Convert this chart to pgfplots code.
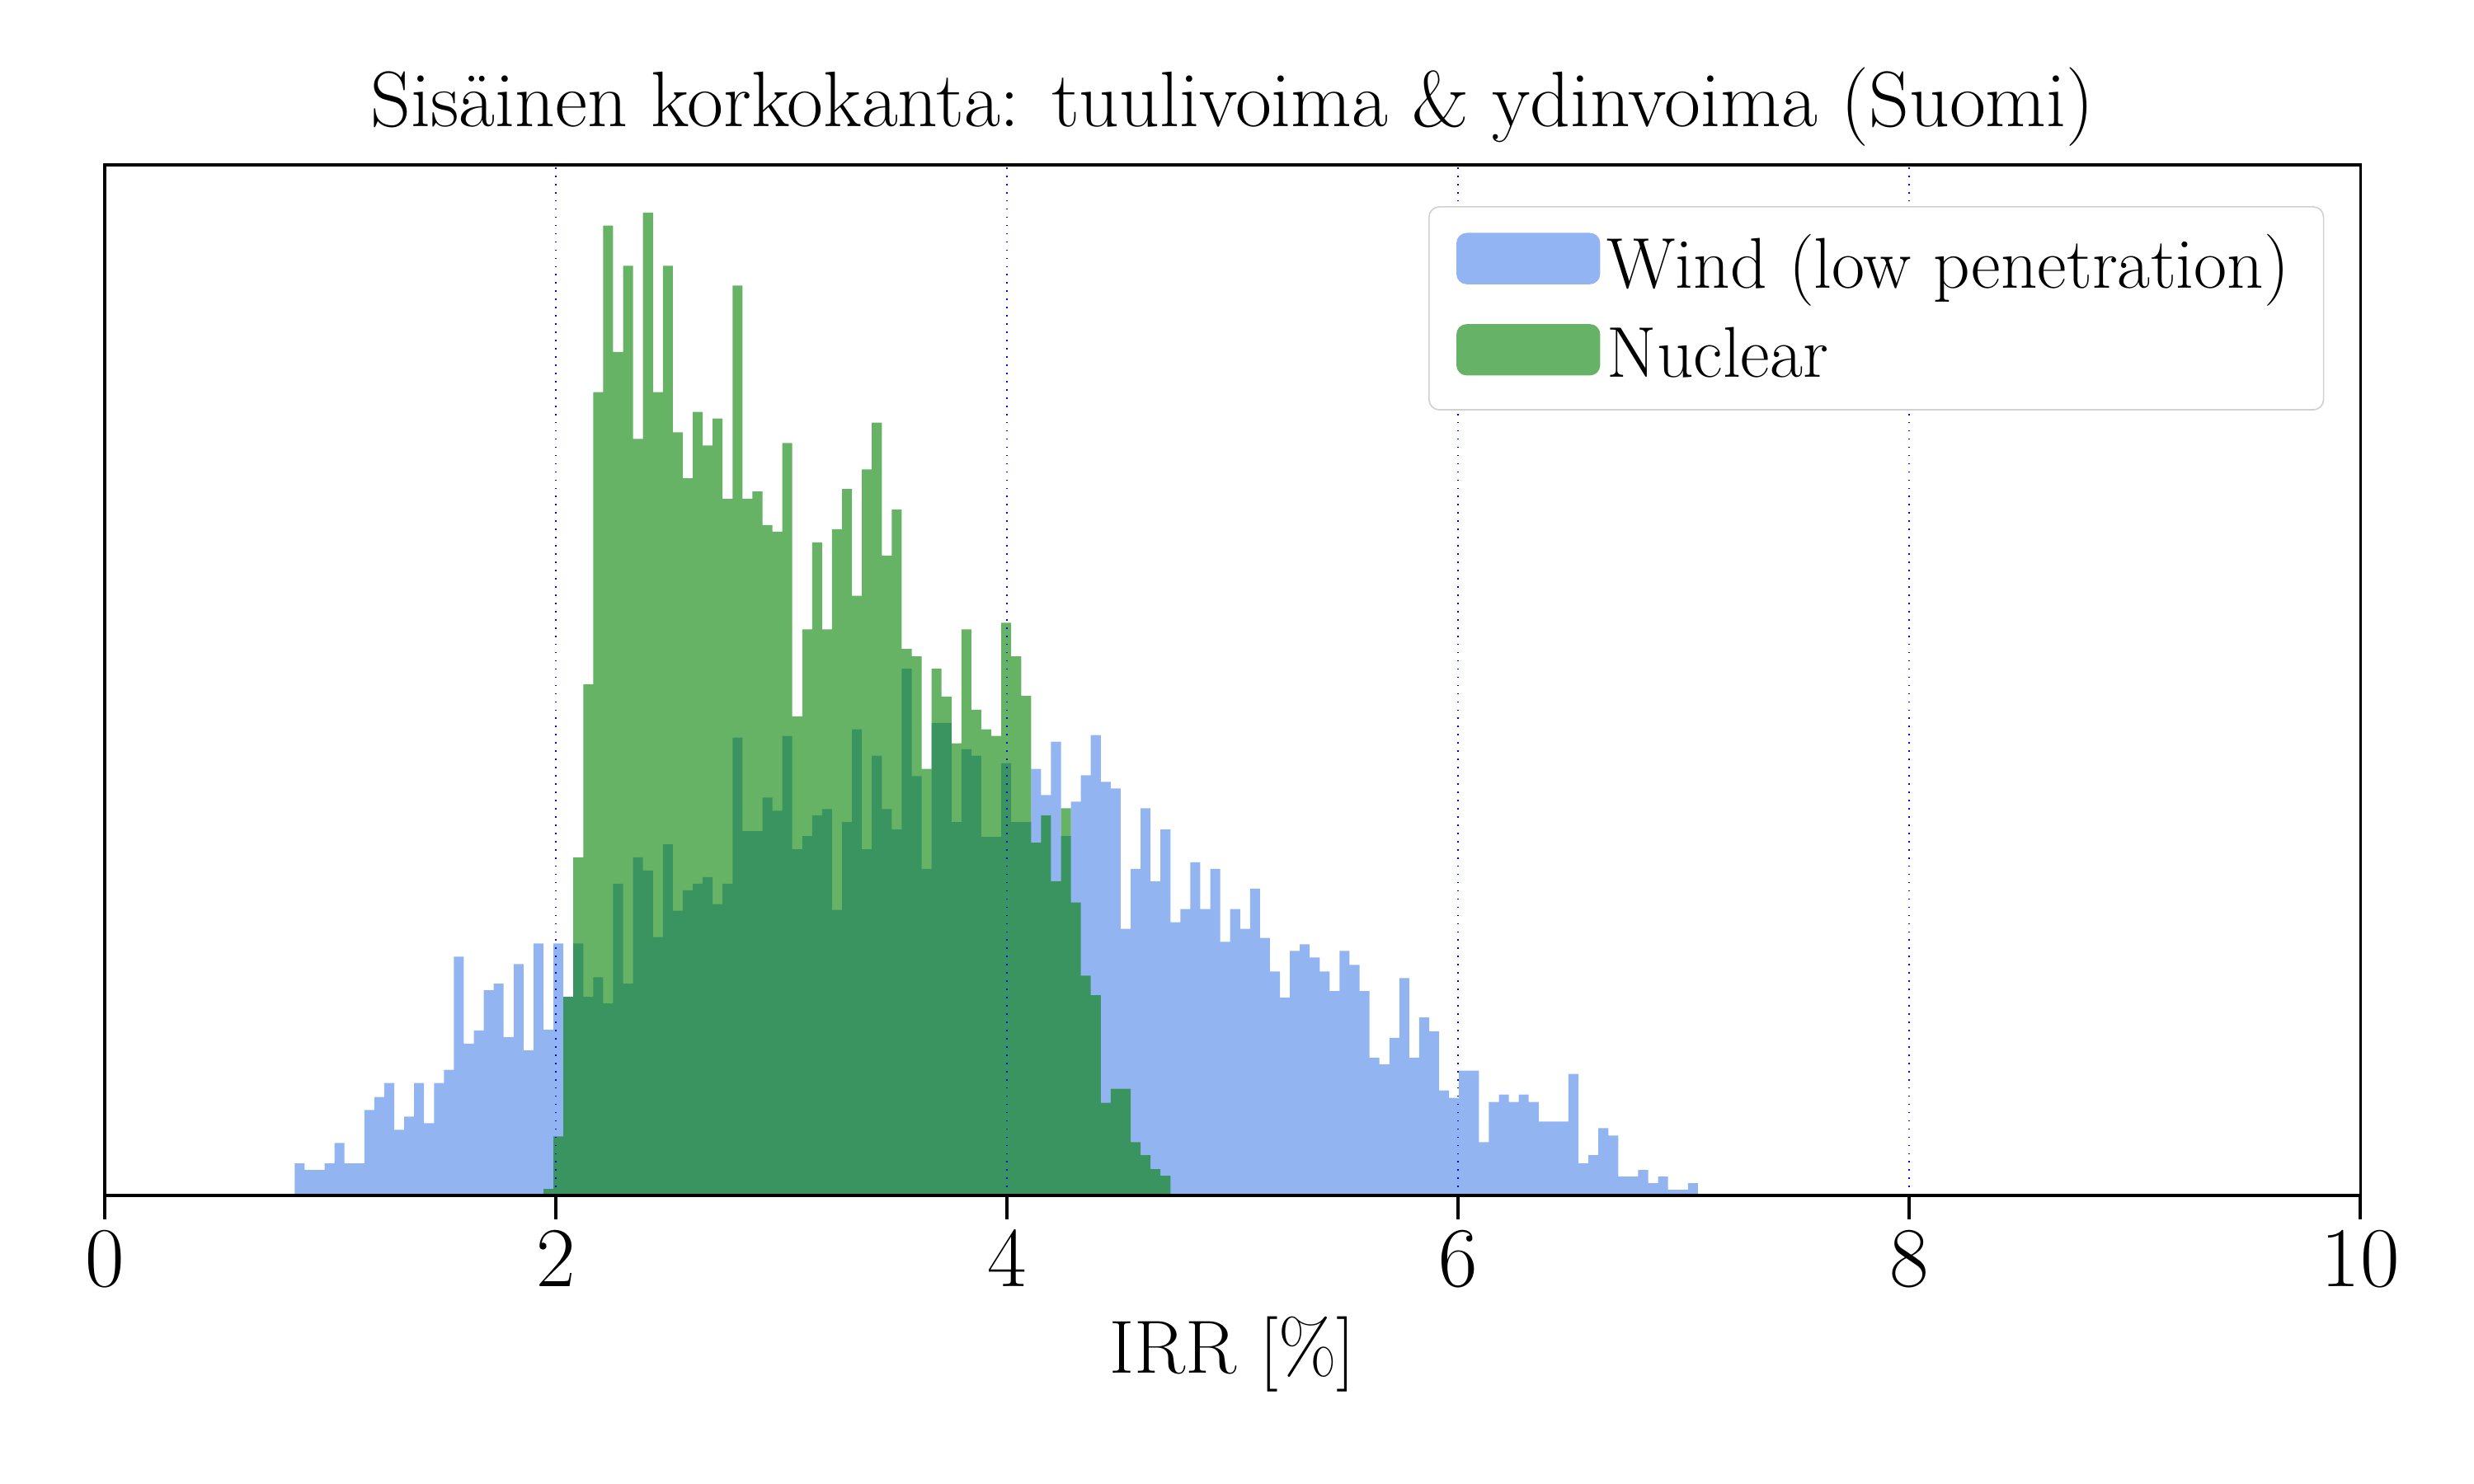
\documentclass[border=0pt]{standalone}
\usepackage{pgfplots}
\usepackage{pgfplotstable}
\pgfplotsset{compat=1.18}
\definecolor{windc}{RGB}{100,149,237}
\definecolor{nucc}{RGB}{0,128,0}
\pgfplotstableread{
k h
-25 39
-24 31
-23 31
-22 39
-21 64
-20 39
-19 39
-18 104
-17 120
-16 137
-15 80
-14 96
-13 137
-12 88
-11 137
-10 153
-9 291
-8 185
-7 201
-6 250
-5 258
-4 193
-3 282
-2 177
-1 307
0 202
1 307
2 242
3 307
4 242
5 266
6 234
7 380
8 258
9 412
10 396
11 315
12 428
13 347
14 372
15 380
16 388
17 355
18 380
19 558
20 444
21 444
22 485
23 469
24 560
25 422
26 438
27 463
28 471
29 348
30 455
31 568
32 422
33 536
34 471
35 446
36 642
37 511
38 398
39 576
40 576
41 455
42 544
43 536
44 437
45 437
46 527
47 455
48 455
49 520
50 488
51 553
52 438
53 480
54 512
55 561
56 504
57 496
58 325
59 398
60 472
61 383
62 446
63 333
64 349
65 406
66 349
67 398
68 309
69 349
70 325
71 374
72 314
73 273
74 241
75 298
76 306
77 290
78 273
79 249
80 298
81 281
82 249
83 168
84 160
85 192
86 265
87 168
88 217
89 200
90 128
91 119
92 152
93 152
94 65
95 114
96 123
97 114
98 123
99 114
100 90
101 90
102 90
103 148
104 39
105 49
106 82
107 73
108 23
109 23
110 31
111 15
112 23
113 7
114 7
115 15
116 0
}\wind
\pgfplotstableread{
k h
0 8
1 72
2 242
3 412
4 623
5 979
6 1182
7 1028
8 1133
9 922
10 1198
11 979
12 1133
13 930
14 874
15 955
16 914
17 947
18 849
19 1109
20 849
21 858
22 817
23 809
24 917
25 584
26 690
27 796
28 690
29 812
30 861
31 731
32 885
33 942
34 780
35 836
36 666
37 657
38 520
39 642
40 608
41 551
42 690
43 592
44 568
45 560
46 698
47 657
48 609
49 430
50 463
51 383
52 472
53 357
54 268
55 244
56 113
57 130
58 130
59 65
60 49
61 32
62 24
63 0
}\nuc
\begin{document}
\begin{tikzpicture}
\path[use as bounding box] (-30.6pt,-84.3pt) rectangle (692.1pt,349.3pt);
\begin{axis}[
  at={(0,0)}, anchor=south west,
  scale only axis, width=658.9pt, height=301.1pt,
  xmin=0, xmax=10, ymin=0, ymax=1256,
  xtick={0,2,4,6,8,10}, ytick=\empty,
  xtick pos=bottom, tick align=outside,
  major tick length=7pt,
  every tick/.style={black, line width=0.9pt},
  xmajorgrids, grid style={blue, dotted, line width=0.4pt},
  axis on top,
  axis line style={line width=0.8pt},
  tick label style={font=\fontsize{27}{30}\selectfont},
  xlabel={IRR [\%]},
  xlabel style={font=\fontsize{22}{26}\selectfont, yshift=-2pt},
  title={Sisäinen korkokanta: tuulivoima \& ydinvoima (Suomi)},
  title style={font=\fontsize{23}{27}\selectfont, yshift=-4pt},
  legend style={at={(0.984,0.96)}, anchor=north east, draw=black!18, rounded corners=3pt,
    font=\fontsize{21}{25}\selectfont, row sep=6pt, inner xsep=8pt, inner ysep=6pt},
  legend cell align=left,
  legend image code/.code={\fill[#1] (0pt,-6pt) rectangle (42pt,9pt);},
]
\addplot[ybar interval, fill=windc, fill opacity=0.7, draw=none]
  table[x expr={1.945+0.04412*\thisrow{k}}, y=h] {\wind};
\addlegendentry{Wind (low penetration)}
\addplot[ybar interval, fill=nucc, fill opacity=0.6, draw=none]
  table[x expr={1.945+0.04412*\thisrow{k}}, y=h] {\nuc};
\addlegendentry{Nuclear}
\end{axis}
\end{tikzpicture}
\end{document}
